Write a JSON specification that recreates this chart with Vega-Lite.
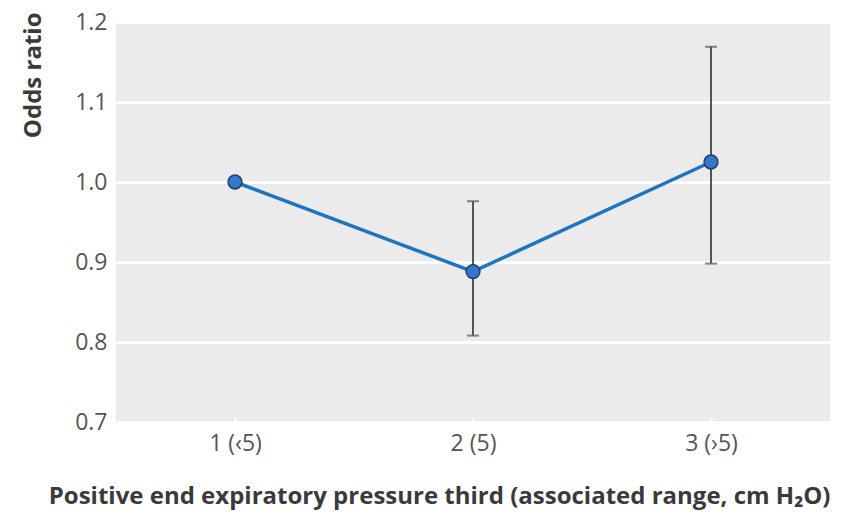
{
  "$schema": "https://vega.github.io/schema/vega-lite/v6.json",
  "width": 714,
  "height": 400,
  "autosize": {"type": "none"},
  "padding": {"left": 116, "top": 22, "right": 13, "bottom": 90},
  "background": "white",
  "config": {
    "view": {"fill": "#ebebeb", "stroke": null},
    "font": "Open Sans"
  },
  "data": {
    "values": [
      {"group": "1 (‹5)", "or": 1.0, "lo": null, "hi": null},
      {"group": "2 (5)", "or": 0.888, "lo": 0.808, "hi": 0.976},
      {"group": "3 (›5)", "or": 1.025, "lo": 0.898, "hi": 1.169}
    ]
  },
  "encoding": {
    "x": {
      "field": "group",
      "type": "ordinal",
      "sort": null,
      "scale": {"type": "point", "padding": 0.5, "domain": ["1 (‹5)", "2 (5)", "3 (›5)"]},
      "axis": {
        "title": "Positive end expiratory pressure third (associated range, cm H₂O)",
        "titleFont": "Open Sans",
        "titleFontWeight": "bold",
        "titleFontSize": 24,
        "titleColor": "#3a3a3a",
        "titleAnchor": "end",
        "titlePadding": 29,
        "labelAngle": 0,
        "labelFontSize": 23,
        "labelColor": "#555555",
        "labelPadding": 15,
        "domain": false,
        "grid": false,
        "ticks": true,
        "tickColor": "white",
        "tickWidth": 2,
        "tickSize": -5
      }
    }
  },
  "layer": [
    {
      "mark": {"type": "rule", "color": "#555555", "strokeWidth": 2},
      "encoding": {
        "y": {"field": "lo", "type": "quantitative"},
        "y2": {"field": "hi"}
      }
    },
    {
      "mark": {"type": "tick", "color": "#555555", "thickness": 2, "size": 12, "orient": "horizontal"},
      "encoding": {"y": {"field": "lo", "type": "quantitative"}}
    },
    {
      "mark": {"type": "tick", "color": "#555555", "thickness": 2, "size": 12, "orient": "horizontal"},
      "encoding": {"y": {"field": "hi", "type": "quantitative"}}
    },
    {
      "mark": {"type": "line", "color": "#1f74c0", "strokeWidth": 3.5},
      "encoding": {
        "y": {
          "field": "or",
          "type": "quantitative",
          "scale": {"domain": [0.7, 1.2], "nice": false, "zero": false},
          "axis": {
            "title": "Odds ratio",
            "titleFont": "Open Sans",
            "titleFontWeight": "bold",
            "titleFontSize": 24,
            "titleColor": "#3a3a3a",
            "titleAnchor": "end",
            "titleY": -10,
            "titleX": -71,
            "titleBaseline": "bottom",
            "values": [0.7, 0.8, 0.9, 1.0, 1.1, 1.2],
            "format": ".1f",
            "labelFontSize": 23,
            "labelColor": "#555555",
            "labelPadding": 9,
            "domain": false,
            "ticks": false,
            "grid": true,
            "gridColor": "white",
            "gridWidth": 3
          }
        }
      }
    },
    {
      "mark": {"type": "point", "filled": true, "fill": "#3378cc", "stroke": "#24406a", "strokeWidth": 1.5, "size": 190, "opacity": 1},
      "encoding": {"y": {"field": "or", "type": "quantitative"}}
    }
  ]
}
